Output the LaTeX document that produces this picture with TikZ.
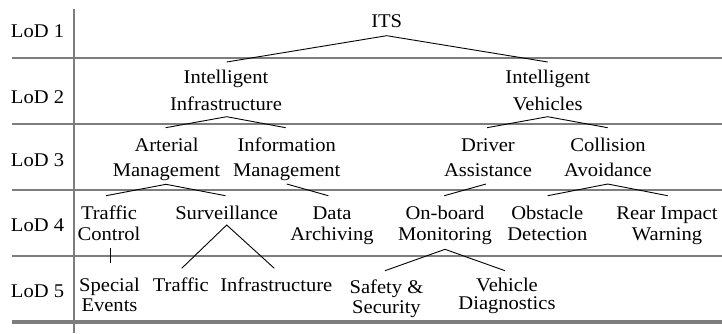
\documentclass[tikz,border=0pt]{standalone}
\usepackage{fontspec}
\setmainfont{Liberation Serif}[FakeStretch=1.06]
\usetikzlibrary{calc}
\newcommand\twoline[3]{\vtop{\baselineskip=#3pt\lineskiplimit=-50pt\relax\halign{\hfil##\hfil\cr#1\cr#2\cr}}}
\definecolor{rulegray}{RGB}{125,125,125}
\tikzset{
  lbl/.style={anchor=base, inner sep=0pt, font=\fontsize{19.4}{23}\selectfont},
  conn/.style={draw=black, line width=0.9pt},
  rowline/.style={draw=rulegray, line width=2pt},
}
\begin{document}
\begin{tikzpicture}[x=1pt,y=-1pt]
\useasboundingbox (0,0) rectangle (722,333);
% row separators
\coordinate (r1a) at (12,58);    \coordinate (r1b) at (722,58);
\coordinate (r2a) at (12,123.5); \coordinate (r2b) at (722,123.5);
\coordinate (r3a) at (12,189.5); \coordinate (r3b) at (722,189.5);
\coordinate (r4a) at (12,256);   \coordinate (r4b) at (722,256);
\coordinate (r5a) at (12,322);   \coordinate (r5b) at (722,322);
\coordinate (va) at (74,9);      \coordinate (vb) at (74,333);
\draw[rowline] (r1a) -- (r1b);
\draw[rowline] (r2a) -- (r2b);
\draw[rowline] (r3a) -- (r3b);
\draw[rowline] (r4a) -- (r4b);
\draw[rowline, line width=3.2pt] (r5a) -- (r5b);
\draw[rowline, line width=2.8pt] (va) -- (vb);
% level labels
\node[lbl] (l1) at (37.5,37) {LoD 1};
\node[lbl] (l2) at (37.5,103) {LoD 2};
\node[lbl] (l3) at (37.5,166.7) {LoD 3};
\node[lbl] (l4) at (37.5,231) {LoD 4};
\node[lbl] (l5) at (37.5,297) {LoD 5};
% LoD 1
\node[lbl] (its) at (386.7,27.3) {ITS};
% LoD 2
\node[lbl] (ii) at (226,83.3) {\twoline{Intelligent}{Infrastructure}{26.7}};
\node[lbl] (iv) at (547.7,83.3) {\twoline{Intelligent}{Vehicles}{26.7}};
% LoD 3
\node[lbl] (am) at (166.5,151.7) {\twoline{Arterial}{Management}{25}};
\node[lbl] (im) at (286.7,151.7) {\twoline{Information}{Management}{25}};
\node[lbl] (da) at (488,151.7) {\twoline{Driver}{Assistance}{25}};
\node[lbl] (ca) at (608,151.7) {\twoline{Collision}{Avoidance}{25}};
% LoD 4
\node[lbl] (tc) at (109,219) {\twoline{Traffic}{Control}{21.5}};
\node[lbl] (sv) at (226.7,219) {Surveillance};
\node[lbl] (dar) at (332,219) {\twoline{Data}{Archiving}{21.5}};
\node[lbl] (obm) at (445,219) {\twoline{On-board}{Monitoring}{21.5}};
\node[lbl] (od) at (547.3,219) {\twoline{Obstacle}{Detection}{21.5}};
\node[lbl] (riw) at (667,219) {\twoline{Rear Impact}{Warning}{21.5}};
% LoD 5
\node[lbl] (se) at (109.5,291.7) {\twoline{Special}{Events}{20}};
\node[lbl] (tr) at (180.8,291.7) {Traffic};
\node[lbl] (inf) at (276.3,291.7) {Infrastructure};
\node[lbl] (ss) at (386.5,293.3) {\twoline{Safety \&}{Security}{20}};
\node[lbl] (vd) at (507,291) {\twoline{Vehicle}{Diagnostics}{18.3}};
% connectors
\draw[conn] ($(ii.base)+(0.7,-21.3)$) -- ($(its.base)+(0,8.4)$) -- ($(iv.base)+(0,-21.3)$);
\draw[conn] ($(am.base)+(-0.8,-24)$) -- ($(ii.base)+(0.7,33.4)$) -- ($(im.base)+(-1,-24)$);
\draw[conn] ($(da.base)+(-1,-24)$) -- ($(iv.base)+(0,33.4)$) -- ($(ca.base)+(-0.3,-24)$);
\draw[conn] ($(tc.base)+(-3,-23.3)$) -- ($(am.base)+(-0.5,32.6)$) -- ($(sv.base)+(-1.2,-23.3)$);
\draw[conn] ($(im.base)+(0,32.3)$) -- ($(dar.base)+(-3.7,-23.3)$);
\draw[conn] ($(da.base)+(-2,32.3)$) -- ($(obm.base)+(-0.7,-23.3)$);
\draw[conn] ($(od.base)+(0.4,-23.3)$) -- ($(ca.base)+(-0.3,32.3)$) -- ($(riw.base)+(0.7,-23.3)$);
\draw[conn] ($(tc.base)+(1,29.3)$) -- ($(se.base)+(0.5,-28.4)$);
\draw[conn] ($(tr.base)+(0.9,-23.4)$) -- ($(sv.base)+(0,6)$) -- ($(inf.base)+(-2,-23.4)$);
\draw[conn] ($(ss.base)+(-1.5,-22.6)$) -- ($(obm.base)+(0,30.3)$) -- ($(vd.base)+(-2,-20.3)$);
\end{tikzpicture}
\end{document}
